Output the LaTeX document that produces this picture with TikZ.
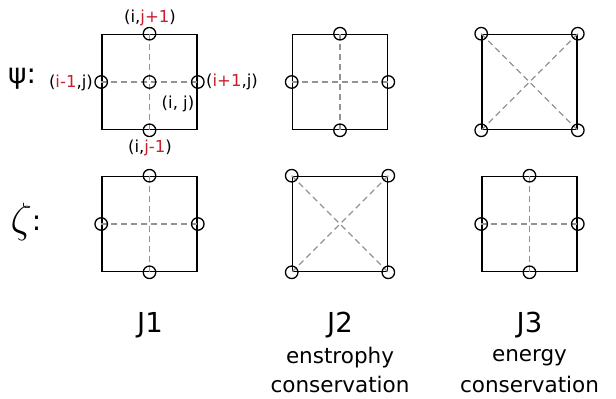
\documentclass[tikz,border=0pt]{standalone}
\usepackage{fontspec}
\setmainfont{DejaVu Sans}
\definecolor{idxred}{RGB}{200,30,45}
\begin{document}
\begin{tikzpicture}[x=1pt,y=-1pt,
  cell/.style={draw, line width=1.6pt, minimum width=95pt, minimum height=95pt, inner sep=0pt},
  pt/.style={circle, draw, line width=1.3pt, minimum size=12.5pt, inner sep=0pt},
  grid/.style={draw=gray!85, dash pattern=on 6pt off 4pt, line width=1.3pt},
  lab/.style={font=\fontsize{16.5}{18}\selectfont, inner sep=0pt},
  big/.style={font=\fontsize{27.5}{30}\selectfont, inner sep=0pt},
  sub/.style={font=\fontsize{21.5}{24}\selectfont, inner sep=0pt}]
\useasboundingbox (0,0) rectangle (616,399);
% boxes
\node[cell] (a1) at (149.5,82) {};
\node[cell] (a2) at (340,82) {};
\node[cell] (a3) at (529.5,82) {};
\node[cell] (b1) at (149.5,224) {};
\node[cell] (b2) at (340,224) {};
\node[cell] (b3) at (529.5,224) {};
% dashed guides
\foreach \b in {a1,a2,b1,b3} {
  \draw[grid] (\b.north) -- (\b.south);
  \draw[grid] (\b.west) -- (\b.east);
}
\foreach \b in {a3,b2} {
  \draw[grid] (\b.north west) -- (\b.south east);
  \draw[grid] (\b.north east) -- (\b.south west);
}
% circles
\foreach \b in {a1,a2,b1,b3} {
  \foreach \s in {north,south,east,west}
    \node[pt] (\b-\s) at (\b.\s) {};
}
\node[pt] (a1-c) at (a1.center) {};
\foreach \b in {a3,b2} {
  \foreach \s in {north west,north east,south west,south east}
    \node[pt] (\b-\s) at (\b.\s) {};
}
% index labels
\node[lab] (ljp) at (150,18) {(i,\textcolor{idxred}{j+1})};
\node[lab] (ljm) at (150,148) {(i,\textcolor{idxred}{j-1})};
\node[lab,anchor=east] (lim) at (93,83) {(\textcolor{idxred}{i-1},j)};
\node[lab,anchor=west] (lip) at (206,82) {(\textcolor{idxred}{i+1},j)};
\node[lab] (lij) at (178,104) {(i, j)};
% row labels
\node[inner sep=0pt, font=\fontsize{28}{30}\selectfont] (psi) at (22,79) {ψ:};
\node[inner sep=0pt, font=\fontsize{28}{30}\selectfont] (zeta) at (26,222) {\raisebox{-2pt}{\scalebox{1.7}{$\zeta$}}:};
% scheme labels
\node[big] (j1) at (150,325) {J1};
\node[big] (j2) at (340,325) {J2};
\node[big] (j3) at (529.5,325) {J3};
\node[sub] (e2) at (340,358) {enstrophy};
\node[sub] (c2) at (340,384) {conservation};
\node[sub] (e3) at (529.5,358) {energy};
\node[sub] (c3) at (529.5,384) {conservation};
\end{tikzpicture}
\end{document}
